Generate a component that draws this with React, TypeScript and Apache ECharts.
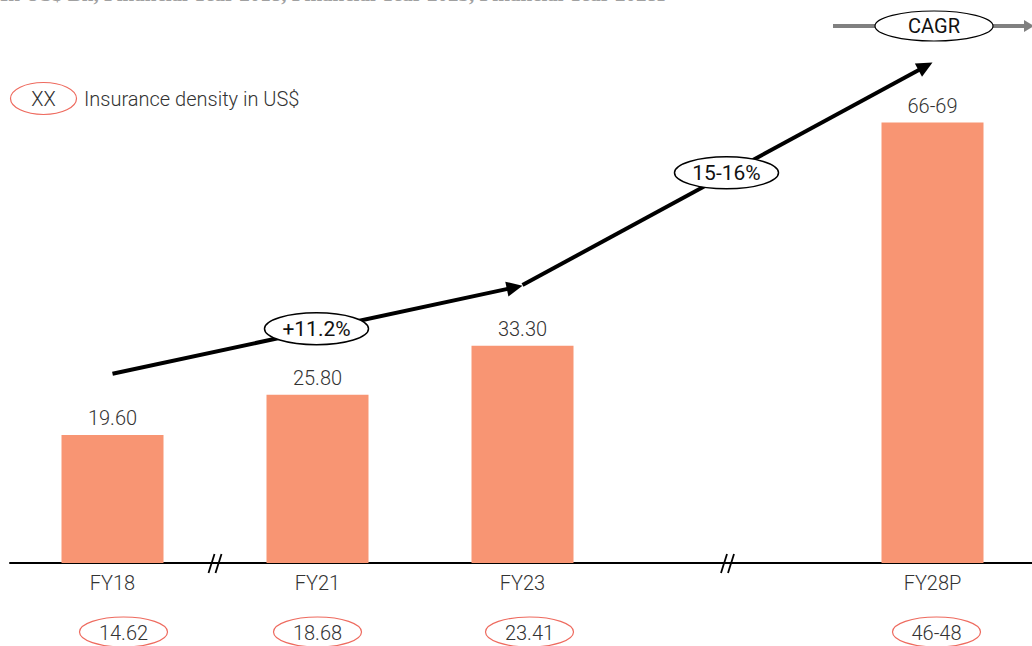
import React, { useEffect, useRef } from "react";
import * as echarts from "echarts";

const categories = ["FY18", "FY21", "FY23", "", "FY28P"];
const marketValues: (number | null)[] = [19.6, 25.8, 33.3, null, 67.5];
const valueLabels = ["19.60", "25.80", "33.30", "", "66-69"];
const densityLabels = ["14.62", "18.68", "23.41", "", "46-48"];
const cagrLabels = ["+11.2%", "15-16%"];
// arrow endpoints in data space: [category index, value]
const cagrArrows: [number, number][][] = [
  [[0, 29.0], [2, 42.5]],
  [[2, 42.6], [4, 76.7]],
];
// axis breaks drawn midway between these category indices
const axisBreaks: [number, number][] = [[0, 1], [2, 4]];
const titleText = "In US$ Bn, Financial Year 2018, Financial Year 2023, Financial Year 2028P";

const BAR = "#F89573";
const RED = "#EE6A5E";
const FONT = "Roboto";
const W = 300;

export default function App() {
  const ref = useRef<HTMLDivElement>(null);
  useEffect(() => {
    const chart = echarts.init(ref.current!, null, { renderer: "svg" });
    chart.setOption({
      animation: false,
      backgroundColor: "#ffffff",
      grid: { left: 10, right: 5, top: 41, bottom: 83 },
      xAxis: {
        type: "category",
        data: categories,
        axisLine: { lineStyle: { color: "#000", width: 2 } },
        axisTick: { show: false },
        axisLabel: { color: "#333", fontSize: 20, fontFamily: FONT, fontWeight: W, margin: 10 },
      },
      yAxis: { type: "value", min: 0, max: 80, show: false, splitLine: { show: false } },
      series: [
        {
          type: "bar",
          data: marketValues,
          barWidth: 102,
          itemStyle: { color: BAR },
          label: {
            show: true,
            position: "top",
            distance: 7,
            color: "#333",
            fontSize: 20,
            fontFamily: FONT,
            fontWeight: W,
            formatter: (p: any) => valueLabels[p.dataIndex],
          },
        },
      ],
    });

    const px = (c: number, v: number) =>
      chart.convertToPixel({ gridIndex: 0 }, [c, v]) as number[];
    const baseY = px(0, 0)[1];
    const g: any[] = [];

    // title (clipped at top, as in the source)
    g.push({
      type: "text",
      x: 0,
      y: 4,
      style: {
        text: titleText,
        fill: "#a0a0a0",
        font: "bold 21px 'Liberation Serif', serif",
        verticalAlign: "bottom",
      },
    });

    // legend
    g.push({
      type: "ellipse",
      shape: { cx: 43.5, cy: 98.5, rx: 33, ry: 16 },
      style: { fill: "#fff", stroke: RED, lineWidth: 1.2 },
    });
    g.push({
      type: "text",
      x: 43.5,
      y: 98.5,
      style: { text: "XX", fill: "#333", fontSize: 20, fontFamily: FONT, fontWeight: W, align: "center", verticalAlign: "middle" },
    });
    g.push({
      type: "text",
      x: 84,
      y: 98.5,
      style: { text: "Insurance density in US$", fill: "#333", fontSize: 20, fontFamily: FONT, fontWeight: W, verticalAlign: "middle" },
    });

    // CAGR legend
    g.push({ type: "line", shape: { x1: 833, y1: 26, x2: 1026, y2: 26 }, style: { stroke: "#808080", lineWidth: 4 } });
    g.push({ type: "polygon", shape: { points: [[1024, 20], [1034, 26], [1024, 32]] }, style: { fill: "#808080" } });
    g.push({
      type: "ellipse",
      shape: { cx: 934, cy: 26, rx: 59, ry: 15 },
      style: { fill: "#fff", stroke: "#000", lineWidth: 1.2 },
    });
    g.push({
      type: "text",
      x: 934,
      y: 26,
      style: { text: "CAGR", fill: "#111", fontSize: 20, fontFamily: FONT, align: "center", verticalAlign: "middle" },
    });

    // CAGR arrows
    cagrArrows.forEach((seg, i) => {
      const a = px(seg[0][0], seg[0][1]);
      const b = px(seg[1][0], seg[1][1]);
      const dx = b[0] - a[0];
      const dy = b[1] - a[1];
      const len = Math.sqrt(dx * dx + dy * dy);
      const ux = dx / len;
      const uy = dy / len;
      const hl = 16;
      const hw = 7.5;
      const bx = b[0] - ux * hl;
      const by = b[1] - uy * hl;
      g.push({ type: "line", shape: { x1: a[0], y1: a[1], x2: bx + ux * 2, y2: by + uy * 2 }, style: { stroke: "#000", lineWidth: 4 } });
      g.push({
        type: "polygon",
        shape: { points: [[b[0], b[1]], [bx - uy * hw, by + ux * hw], [bx + uy * hw, by - ux * hw]] },
        style: { fill: "#000" },
      });
      const mx = (a[0] + b[0]) / 2 - 1;
      const my = (a[1] + b[1]) / 2 - 1;
      g.push({
        type: "ellipse",
        shape: { cx: mx, cy: my, rx: 52, ry: 16 },
        style: { fill: "#fff", stroke: "#000", lineWidth: 1.5 },
        z: 10,
      });
      g.push({
        type: "text",
        x: mx,
        y: my,
        z: 11,
        style: { text: cagrLabels[i], fill: "#111", fontSize: 21, fontFamily: FONT, align: "center", verticalAlign: "middle" },
      });
    });

    // axis breaks
    axisBreaks.forEach(([i, j]) => {
      const x = (px(i, 0)[0] + px(j, 0)[0]) / 2;
      [-3.5, 3.5].forEach((o) => {
        g.push({
          type: "line",
          shape: { x1: x + o - 3, y1: baseY + 10, x2: x + o + 3, y2: baseY - 9 },
          style: { stroke: "#000", lineWidth: 1.8 },
        });
      });
    });

    // density ellipses
    const offs = [11, 0, 7, 4];
    let k = 0;
    categories.forEach((c, i) => {
      if (!densityLabels[i]) return;
      const x = px(i, 0)[0] + offs[k++];
      g.push({
        type: "ellipse",
        shape: { cx: x, cy: 632, rx: 44, ry: 15 },
        style: { fill: "#fff", stroke: RED, lineWidth: 1.2 },
      });
      g.push({
        type: "text",
        x,
        y: 633,
        style: { text: densityLabels[i], fill: "#333", fontSize: 20, fontFamily: FONT, fontWeight: W, align: "center", verticalAlign: "middle" },
      });
    });

    chart.setOption({ graphic: { elements: g } });
    return () => chart.dispose();
  }, []);
  return (
    <div
      ref={ref}
      style={{ position: "fixed", left: 0, top: 0, width: 1040, height: 646 }}
    />
  );
}
